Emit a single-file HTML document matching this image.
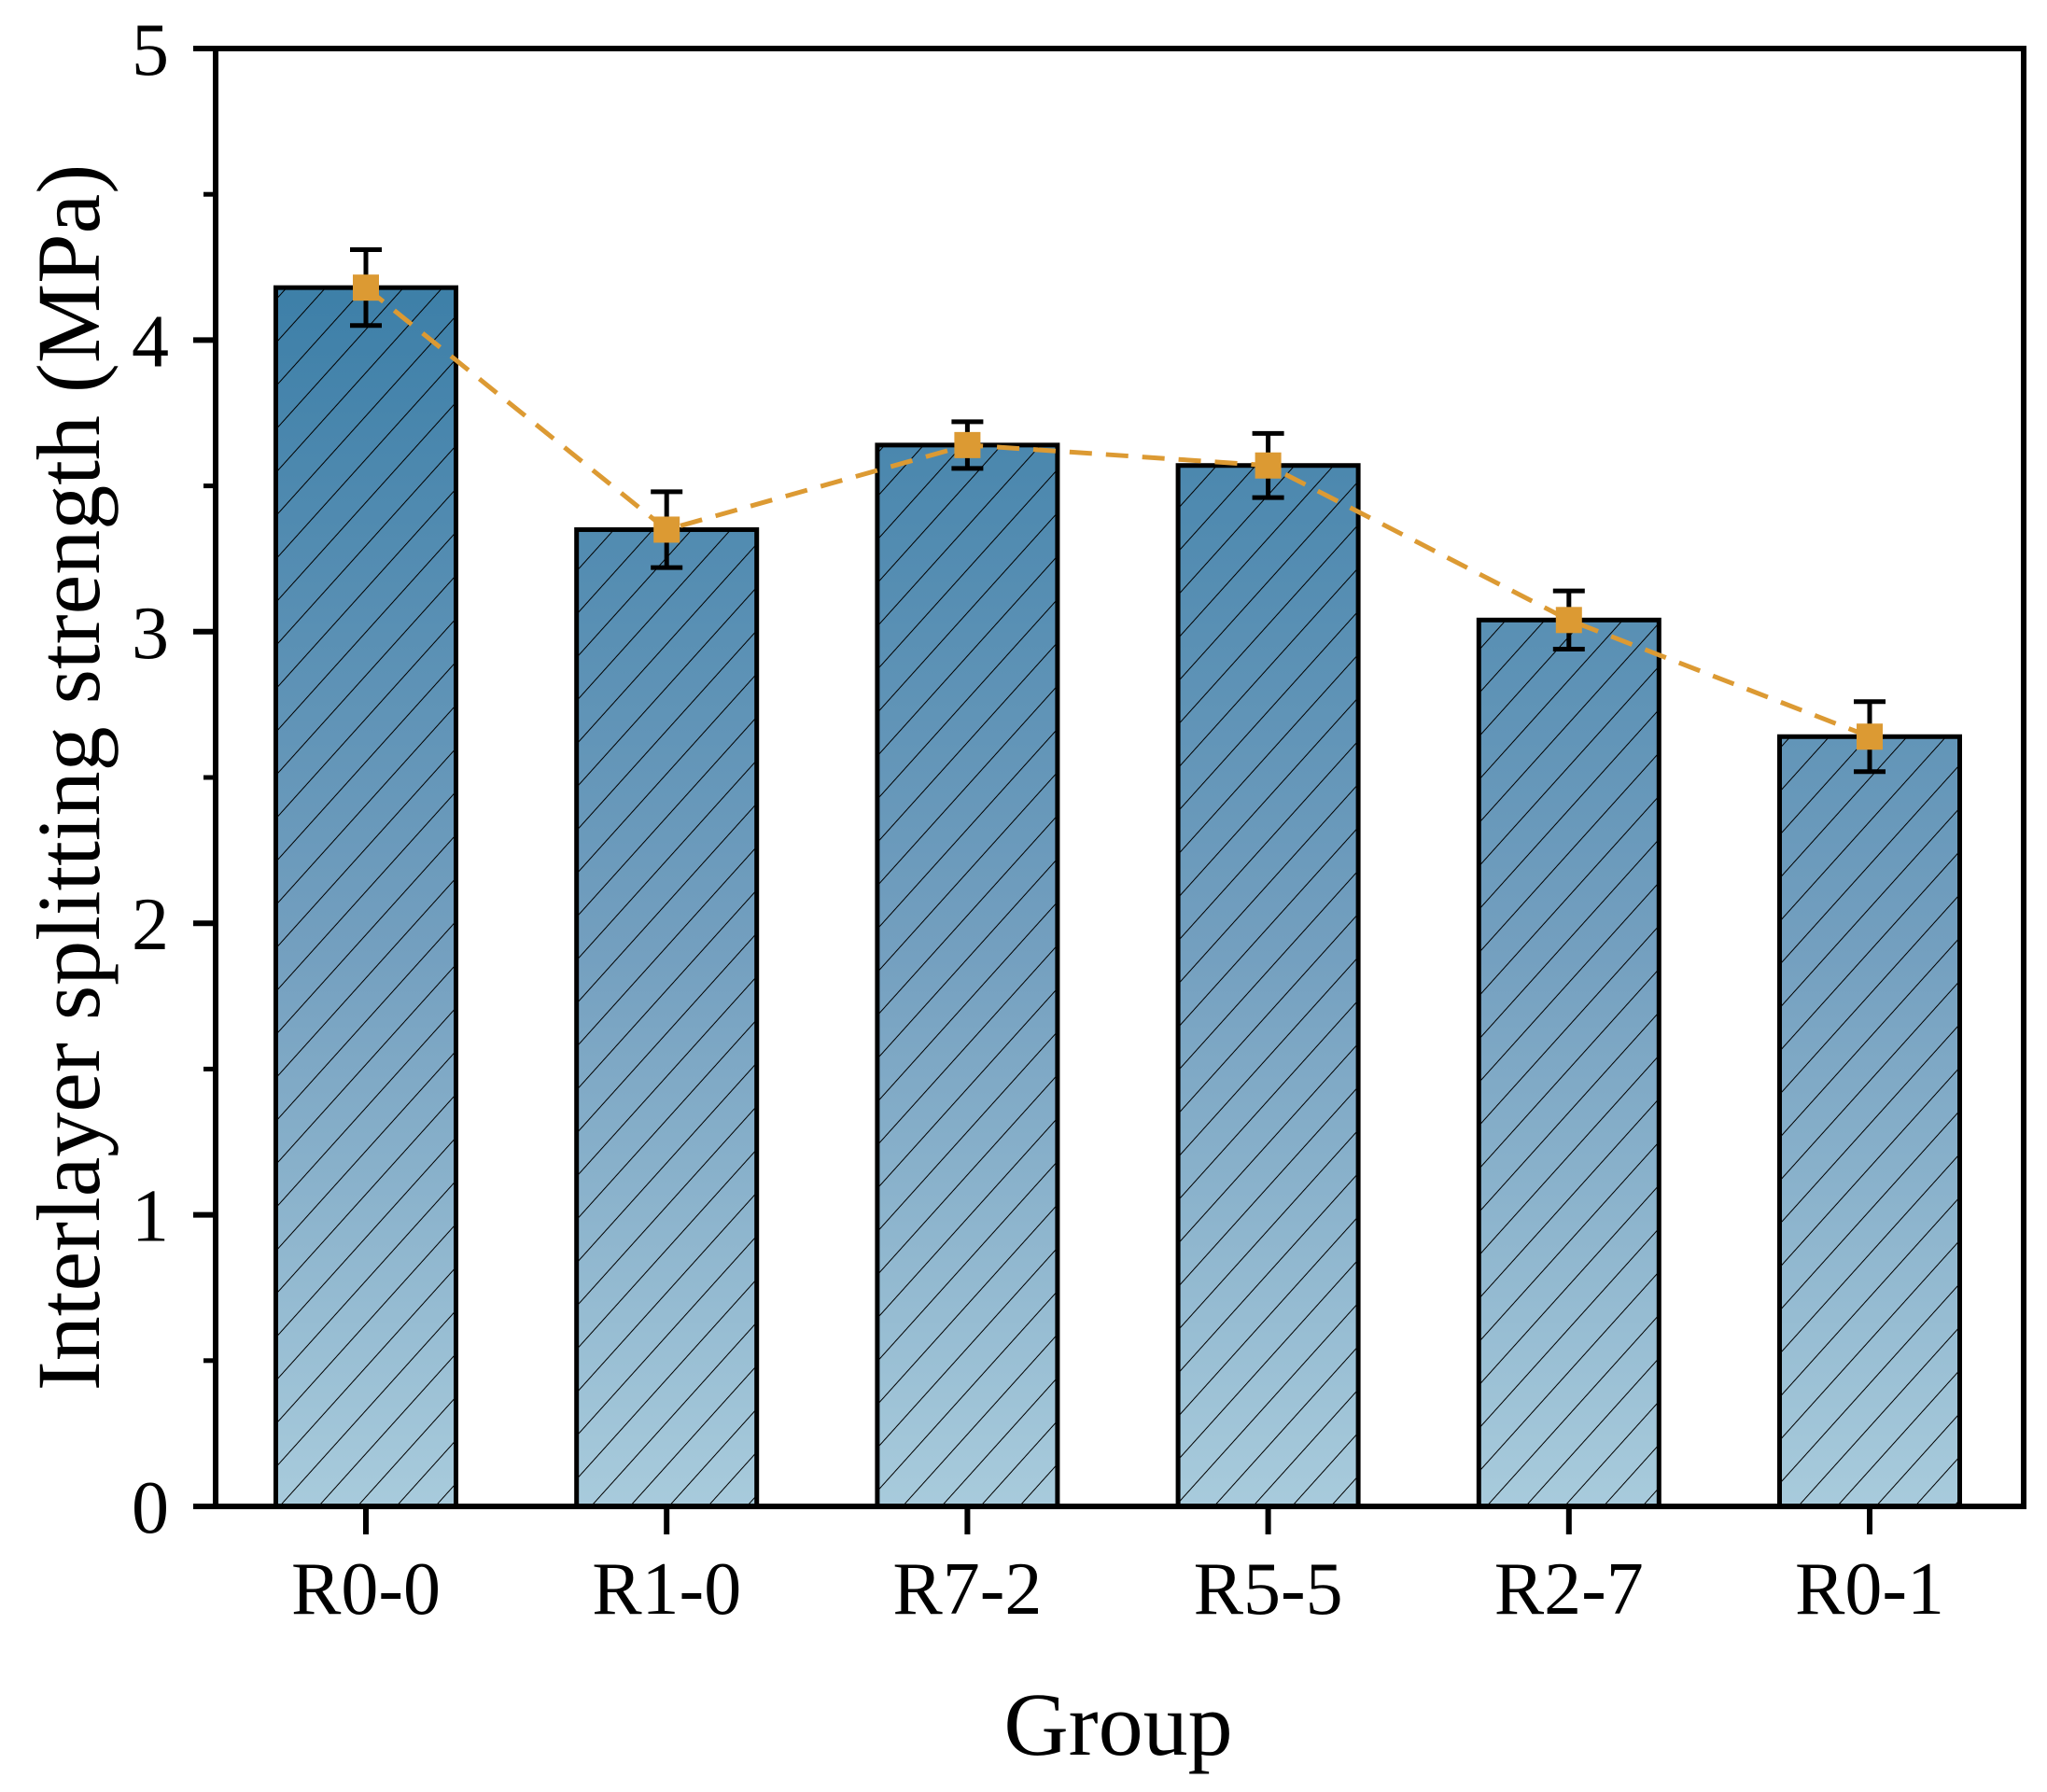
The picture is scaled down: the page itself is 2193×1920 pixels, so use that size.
<!DOCTYPE html>
<html><head><meta charset="utf-8"><style>body{margin:0;background:#fff}svg{display:block}</style></head>
<body>
<svg id="chart" width="2193" height="1920" xmlns="http://www.w3.org/2000/svg" font-family="Liberation Serif, serif">
<defs>
<linearGradient id="g2" gradientUnits="userSpaceOnUse" x1="0" y1="280" x2="0" y2="1614">
<stop offset="0" stop-color="#3b7ea7"/><stop offset="0.55" stop-color="#739fbf"/><stop offset="1" stop-color="#a8cbdc"/>
</linearGradient>
<pattern id="hatch" patternUnits="userSpaceOnUse" width="31" height="31" patternTransform="rotate(42)">
<line x1="0" y1="0" x2="0" y2="31" stroke="#000" stroke-width="2"/>
</pattern>
</defs>
<g id="plot"></g>
</svg>
<script>
const categories = ["R0-0","R1-0","R7-2","R5-5","R2-7","R0-1"];
const values = [4.18,3.35,3.64,3.57,3.04,2.64];
const errors = [0.13,0.13,0.08,0.11,0.10,0.12];
const yTicks = [0,1,2,3,4,5];
const L=231,R=2168,T=52,B=1614,yMax=5;
function xs(i){return 392+i*322.2;}
function ys(v){return B-(B-T)*v/yMax;}
const NS="http://www.w3.org/2000/svg";
const g=document.getElementById('plot');
function mk(tag,attrs,parent){const e=document.createElementNS(NS,tag);for(const k in attrs)e.setAttribute(k,attrs[k]);(parent||g).appendChild(e);return e;}
const bw=193;
categories.forEach((c,i)=>{
  const x=xs(i)-bw/2,y=ys(values[i]),h=B-y;
  const r=mk('rect',{x:x,y:y,width:bw,height:h,fill:'url(#g2)'});
  
  
  const hr=mk('rect',{x:x,y:y,width:bw,height:h,fill:'url(#hatch)',stroke:'#000','stroke-width':5});
  
  
});
let d='';
values.forEach((v,i)=>{d+=(i?'L':'M')+xs(i)+' '+ys(v);});
const ln=mk('path',{d:d,fill:'none',stroke:'#dc9a33','stroke-width':5,'stroke-dasharray':'24 15'});


values.forEach((v,i)=>{
  const x=xs(i);
  const eb=mk('path',{d:`M${x} ${ys(v+errors[i])}V${ys(v-errors[i])}M${x-17} ${ys(v+errors[i])}H${x+17}M${x-17} ${ys(v-errors[i])}H${x+17}`,stroke:'#000','stroke-width':5,fill:'none'});
  
  
  const m=mk('rect',{x:x-14,y:ys(v)-14,width:28,height:28,fill:'#dc9a33'});
  
  
});
const ax=mk('rect',{x:L,y:T,width:R-L,height:B-T,fill:'none',stroke:'#000','stroke-width':6});


yTicks.forEach(t=>{
  const y=ys(t);
  const tk=mk('line',{x1:L-24,x2:L,y1:y,y2:y,stroke:'#000','stroke-width':6});
  
  
  const tx=mk('text',{x:L-50,y:y+28,'text-anchor':'end','font-size':80});
  tx.textContent=t;
  
  
  if(t<yMax){const ym=ys(t+0.5);
    const mt=mk('line',{x1:L-13,x2:L,y1:ym,y2:ym,stroke:'#000','stroke-width':5});
    
    }
});
categories.forEach((c,i)=>{
  const x=xs(i);
  const tk=mk('line',{x1:x,x2:x,y1:B,y2:B+30,stroke:'#000','stroke-width':6});
  
  
  const tx=mk('text',{x:x,y:1729,'text-anchor':'middle','font-size':80});
  tx.textContent=c;
  
  
});
const xt=mk('text',{x:1198,y:1880,'text-anchor':'middle','font-size':96});
xt.textContent='Group';


const yt=mk('text',{x:0,y:0,'text-anchor':'middle','font-size':96,transform:'translate(106,833) rotate(-90)'});
yt.textContent='Interlayer splitting strength (MPa)';


</script>
</body></html>
